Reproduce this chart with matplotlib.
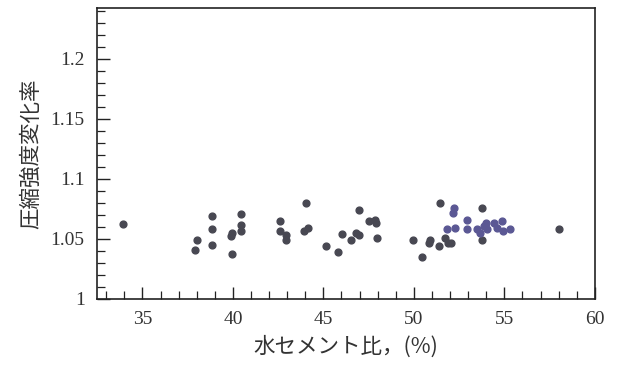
import matplotlib.pyplot as plt
from matplotlib.ticker import MultipleLocator

# water-cement ratio (%) vs. compressive strength change ratio
wc_gray = [33.9, 37.93, 38.02, 38.85, 38.85, 38.85, 39.87, 39.94, 39.93,
           40.46, 40.46, 40.46, 42.62, 42.62, 42.91, 42.95, 44.05, 44.13,
           43.93, 45.14, 45.82, 46.05, 46.51, 46.80, 46.98, 46.97, 47.54,
           47.86, 47.91, 47.95, 49.94, 50.47, 50.86, 50.90, 51.41, 51.45,
           51.73, 51.91, 52.04, 53.76, 53.76, 58.02]
ratio_gray = [1.0625, 1.041, 1.0494, 1.0694, 1.0583, 1.0453, 1.0522, 1.0553,
              1.0378, 1.0705, 1.0613, 1.0563, 1.065, 1.0563, 1.0536, 1.0494,
              1.080, 1.0592, 1.0563, 1.0438, 1.0392, 1.0542, 1.0494, 1.055,
              1.0536, 1.0744, 1.0647, 1.0661, 1.0633, 1.0511, 1.0494, 1.035,
              1.0467, 1.0488, 1.0444, 1.080, 1.0508, 1.0467, 1.0467, 1.0758,
              1.0494, 1.0583]

wc_blue = [51.82, 52.16, 52.23, 52.28, 52.93, 52.96, 53.48, 53.67, 53.85,
           54.0, 54.04, 54.40, 54.59, 54.87, 54.92, 55.33]
ratio_blue = [1.0578, 1.0717, 1.0758, 1.0592, 1.0661, 1.0578, 1.0578, 1.055,
              1.0605, 1.0633, 1.0578, 1.0633, 1.0592, 1.0647, 1.0563, 1.0583]

fig = plt.figure(figsize=(6.19, 3.70), dpi=100)
ax = fig.add_axes([0.157, 0.192, 0.804, 0.786])

ax.scatter(wc_gray, ratio_gray, s=24, color='#484852', zorder=3)
ax.scatter(wc_blue, ratio_blue, s=24, color='#5b5894', zorder=3)

ax.set_xlim(32.5, 60)
ax.set_ylim(1.0, 1.242)

ax.xaxis.set_major_locator(MultipleLocator(5))
ax.xaxis.set_minor_locator(MultipleLocator(1))
ax.yaxis.set_major_locator(MultipleLocator(0.05))
ax.yaxis.set_minor_locator(MultipleLocator(0.01))
ax.set_yticks([1, 1.05, 1.1, 1.15, 1.2])
ax.set_yticklabels(['1', '1.05', '1.1', '1.15', '1.2'])

ax.tick_params(which='both', direction='in', top=False, right=False,
               colors='#222222', labelsize=14, pad=9)
ax.tick_params(which='major', length=9, width=1)
ax.tick_params(which='minor', length=6, width=0.9)
for lab in ax.get_xticklabels() + ax.get_yticklabels():
    lab.set_family('Liberation Serif')
    lab.set_color('#333333')

for sp in ax.spines.values():
    sp.set_linewidth(1.2)
    sp.set_color('#222222')

ax.set_xlabel('水セメント比，(%)', family=['Noto Sans CJK JP', 'DejaVu Sans'],
              fontsize=15.5, color='#333333', labelpad=5)
ax.set_ylabel('圧縮強度変化率', family=['Noto Sans CJK JP', 'DejaVu Sans'],
              fontsize=15.5, color='#333333', labelpad=6)

fig.savefig('out.png', dpi=100)
